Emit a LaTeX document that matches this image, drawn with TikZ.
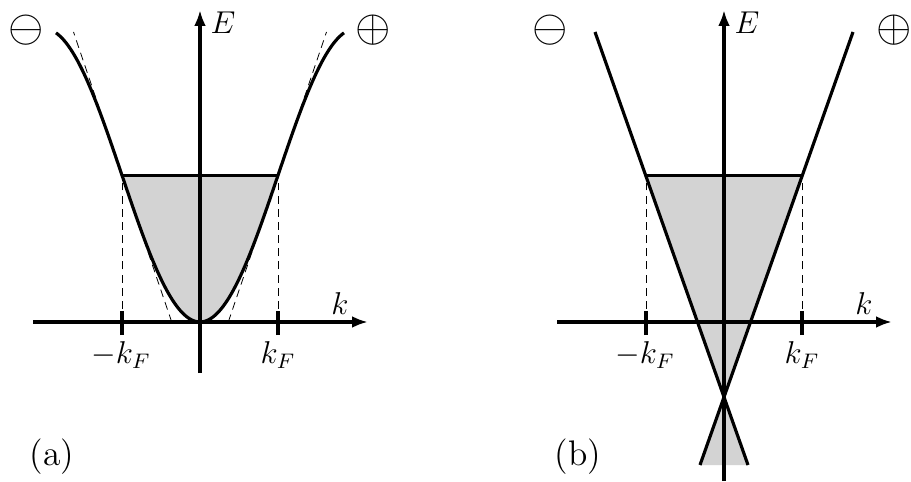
\documentclass[tikz,border=0pt]{standalone}
\usepackage{amsmath}
\usetikzlibrary{arrows.meta}

\definecolor{fermigray}{RGB}{211,211,211}
\tikzset{
  axis/.style={very thick,-{Latex[length=6pt,width=4.4pt]}},
  band/.style={very thick},
  guide/.style={line width=0.3pt,densely dashed},
  sea/.style={fill=fermigray},
  kftick/.style={very thick},
  lbl/.style={font=\fontsize{12}{14}\selectfont},
  sign/.style={inner sep=0pt,font=\fontsize{18}{18}\selectfont},
  panel/.style={font=\fontsize{13.5}{16}\selectfont},
}

\begin{document}
\begin{tikzpicture}[x=0.38pt,y=0.38pt]
\useasboundingbox (0,0) rectangle (911,481);

% (a) cosine band
\begin{scope}[shift={(200,159)}]
\coordinate (aL) at (-167,0);
\coordinate (aR) at (168,0);
\coordinate (aD) at (0,-51);
\coordinate (aU) at (0,312);
\coordinate (aFl) at (-78,146.7);
\coordinate (aFr) at (78,146.7);
\coordinate (aKl) at (-78,0);
\coordinate (aKr) at (78,0);

\fill[sea] plot[domain=-78:78,samples=60,smooth] (\x,{146.7*(1-cos(\x*90/78))}) -- cycle;
\draw[guide] (aKl) -- (aFl);
\draw[guide] (aKr) -- (aFr);
\draw[guide] (-28.3,0) -- (-126.5,290);
\draw[guide] (28.3,0) -- (126.5,290);
\draw[axis] (aL) -- (aR);
\draw[axis] (aD) -- (aU);
\draw[band] plot[domain=-144:144,samples=120,smooth] (\x,{146.7*(1-cos(\x*90/78))});
\draw[band] (aFl) -- (aFr);
\draw[kftick] (-78,-13) -- (-78,11);
\draw[kftick] (78,-13) -- (78,11);

\node[lbl] (aE) at (23,299) {$E$};
\node[lbl] (ak) at (140,18) {$k$};
\node[lbl] (akl) at (-79,-33) {$-k_F$};
\node[lbl] (akr) at (78,-33) {$k_F$};
\node[sign] (am) at (-174,292) {$\ominus$};
\node[sign] (ap) at (173,292) {$\oplus$};
\end{scope}

% (b) linear branches
\begin{scope}[shift={(724,159)}]
\coordinate (bL) at (-167,0);
\coordinate (bR) at (168,0);
\coordinate (bD) at (0,-159);
\coordinate (bU) at (0,312);
\coordinate (bFl) at (-78,146.7);
\coordinate (bFr) at (78,146.7);
\coordinate (bKl) at (-78,0);
\coordinate (bKr) at (78,0);
\coordinate (bX) at (0,-75);
\coordinate (bTl) at (-129,290);
\coordinate (bTr) at (129,290);
\coordinate (bBl) at (-24,-143);
\coordinate (bBr) at (24,-143);

\fill[sea] (bFl) -- (bFr) -- (bX) -- (bBr) -- (bBl) -- (bX) -- cycle;
\draw[guide] (bKl) -- (bFl);
\draw[guide] (bKr) -- (bFr);
\draw[axis] (bL) -- (bR);
\draw[axis] (bD) -- (bU);
\draw[band] (bTl) -- (bBr);
\draw[band] (bTr) -- (bBl);
\draw[band] (bFl) -- (bFr);
\draw[kftick] (-78,-13) -- (-78,11);
\draw[kftick] (78,-13) -- (78,11);

\node[lbl] (bE) at (23,299) {$E$};
\node[lbl] (bk) at (140,18) {$k$};
\node[lbl] (bkl) at (-79,-33) {$-k_F$};
\node[lbl] (bkr) at (78,-33) {$k_F$};
\node[sign] (bm) at (-174,292) {$\ominus$};
\node[sign] (bp) at (170,292) {$\oplus$};
\end{scope}

\node[panel] (la) at (52,24) {(a)};
\node[panel] (lb) at (578,24) {(b)};
\end{tikzpicture}
\end{document}
